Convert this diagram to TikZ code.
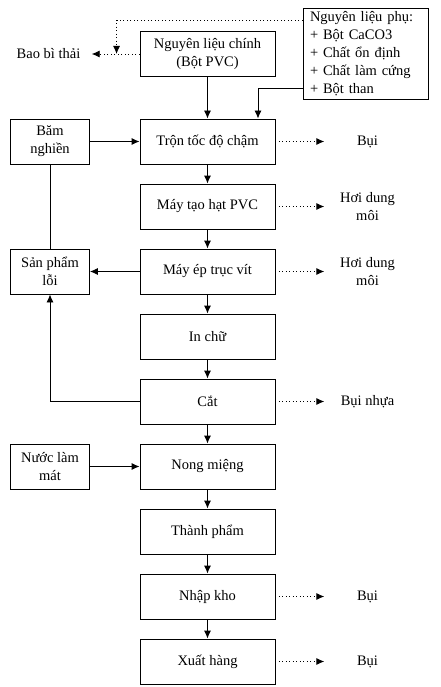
\documentclass[tikz,border=0pt]{standalone}
\usepackage{fontspec}
\setmainfont{Liberation Serif}
\usetikzlibrary{positioning,arrows.meta}

\begin{document}
\begin{tikzpicture}[x=1pt,y=-1pt,node distance=65pt,>={Latex[length=8pt,width=7pt]},
		every node/.style={font=\fontsize{14.5}{18}\selectfont},
		box/.style={draw,line width=0.9pt,minimum width=135pt,minimum height=45pt,align=center},
		sbox/.style={draw,line width=0.9pt,minimum width=79pt,minimum height=45pt,align=center,inner sep=2pt},
		lbl/.style={minimum width=86pt,align=center,inner sep=0pt},
		flow/.style={->,line width=0.9pt},
		waste/.style={->,line width=0.9pt,dash pattern=on 1pt off 2.5pt}
		]
		\useasboundingbox (0,0) rectangle (441,687);
		\node[box] (nlc) at (207.5,54) {Nguyên liệu chính\\(Bột PVC)};
		\node[box] (tron) [below of=nlc, node distance=87.5pt] {Trộn tốc độ chậm};
		\node[box] (taohat) [below of=tron] {Máy tạo hạt PVC};
		\node[box] (ep) [below of=taohat] {Máy ép trục vít};
		\node[box] (inchu) [below of=ep] {In chữ};
		\node[box] (cat) [below of=inchu] {Cắt};
		\node[box] (nong) [below of=cat] {Nong miệng};
		\node[box] (tp) [below of=nong] {Thành phẩm};
		\node[box] (nhap) [below of=tp] {Nhập kho};
		\node[box] (xuat) [below of=nhap] {Xuất hàng};
		
		\node[draw, line width=0.9pt, align=left, text width=111pt, inner xsep=7pt, inner ysep=0.5pt,
			minimum height=91pt] (nlp) [right of=nlc, node distance=158pt]
			{Nguyên liệu phụ:\\+ Bột CaCO3\\+ Chất ổn định\\+ Chất làm cứng\\+ Bột than};
		\node[sbox] (bam) [left of=tron, node distance=157.5pt] {Băm\\nghiền};
		\node[sbox] (spl) [left of=ep, node distance=157.5pt] {Sản phẩm\\lỗi};
		\node[sbox] (nuoc) [left of=nong, node distance=157.5pt] {Nước làm\\mát};
		
		\node[lbl] (baobi) [left of=nlc, node distance=159pt] {Bao bì thải};
		\node[lbl] (bui1) [right of=tron, node distance=160pt] {Bụi};
		\node[lbl] (hoi1) [right of=taohat, node distance=160pt] {Hơi dung\\môi};
		\node[lbl] (hoi2) [right of=ep, node distance=160pt] {Hơi dung\\môi};
		\node[lbl] (bui2) [right of=cat, node distance=160pt] {Bụi nhựa};
		\node[lbl] (bui3) [right of=nhap, node distance=160pt] {Bụi};
		\node[lbl] (bui4) [right of=xuat, node distance=160pt] {Bụi};
		\coordinate (jn) at ([xshift=-23pt]nlc.west);
		
		% main line
		\draw[flow] (nlc) -- (tron);
		\draw[flow] (tron) -- (taohat);
		\draw[flow] (taohat) -- (ep);
		\draw[flow] (ep) -- (inchu);
		\draw[flow] (inchu) -- (cat);
		\draw[flow] (cat) -- (nong);
		\draw[flow] (nong) -- (tp);
		\draw[flow] (tp) -- (nhap);
		\draw[flow] (nhap) -- (xuat);
		
		\draw[flow] ([yshift=11pt]nlp.south west) -| ([xshift=50.5pt]tron.north);
		\draw[flow] (bam) -- (tron);
		\draw[line width=0.9pt] (bam) -- (spl);
		\draw[flow] (ep) -- (spl);
		\draw[flow] (cat) -| (spl);
		\draw[flow] (nuoc) -- (nong);
		
		% waste
		\draw[waste] (nlc) -- (baobi);
		\draw[waste] ([yshift=-12pt]nlp.north west) -| (jn);
		\draw[waste] (tron) -- (bui1);
		\draw[waste] (taohat) -- (hoi1);
		\draw[waste] (ep) -- (hoi2);
		\draw[waste] (cat) -- (bui2);
		\draw[waste] (nhap) -- (bui3);
		\draw[waste] (xuat) -- (bui4);
	\end{tikzpicture}
\end{document}
